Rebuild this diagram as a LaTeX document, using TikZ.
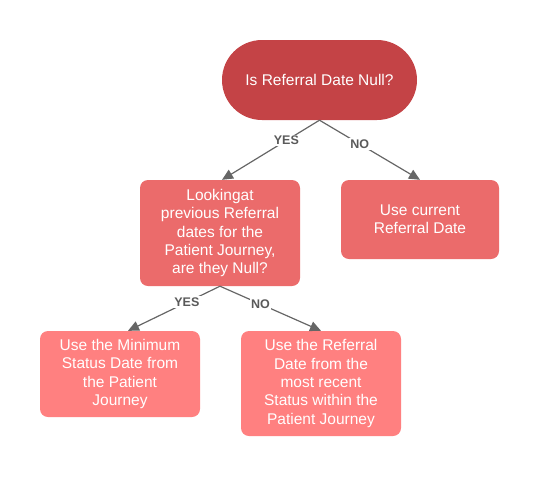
\documentclass[tikz,border=0pt]{standalone}
\usepackage{fontspec}
\setmainfont{Liberation Sans}
\usetikzlibrary{arrows.meta,calc}
\definecolor{topred}{HTML}{C44346}
\definecolor{midred}{HTML}{EB6B6B}
\definecolor{lowred}{HTML}{FF8080}
\definecolor{arrgrey}{HTML}{666666}
\definecolor{lblgrey}{HTML}{5A5A5A}
\begin{document}
\begin{tikzpicture}[x=1pt,y=-1pt,
  box/.style={rounded corners=8pt, minimum width=160pt, align=center, text=white,
    font=\fontsize{15.5}{18.3}\selectfont, inner sep=0pt},
  conn/.style={draw=arrgrey, line width=1.2pt, -{Triangle[length=11pt,width=10pt]}},
  lbl/.style={fill=white, text=lblgrey, font=\fontsize{12.5}{14}\selectfont\bfseries, inner sep=1.5pt}]
\useasboundingbox (0,0) rectangle (540,477);
\node[box, fill=topred, rounded corners=40pt, minimum width=195pt, minimum height=80pt] (q) at (319.5,80) {Is Referral Date Null?};
\node[box, fill=midred, minimum height=106pt] (b2) at (220,233) {Lookingat\\previous Referral\\dates for the\\Patient Journey,\\are they Null?};
\node[box, fill=midred, minimum width=158pt, minimum height=79pt] (b3) at (420,219.5) {Use current\\Referral Date};
\node[box, fill=lowred, minimum height=86pt] (b4) at (120,374) {Use the Minimum\\Status Date from\\the Patient\\Journey};
\node[box, fill=lowred, minimum height=105pt] (b5) at (321,383.5) {Use the Referral\\Date from the\\most recent\\Status within the\\Patient Journey};
\draw[conn] (q.south) -- node[lbl, pos=0.34] {YES} ([xshift=2pt]b2.north);
\draw[conn] (q.south) -- node[lbl, pos=0.4] {NO} (b3.north);
\draw[conn] (b2.south) -- node[lbl, pos=0.36] {YES} ([xshift=8pt]b4.north);
\draw[conn] (b2.south) -- node[lbl, pos=0.4] {NO} (b5.north);
\end{tikzpicture}
\end{document}
